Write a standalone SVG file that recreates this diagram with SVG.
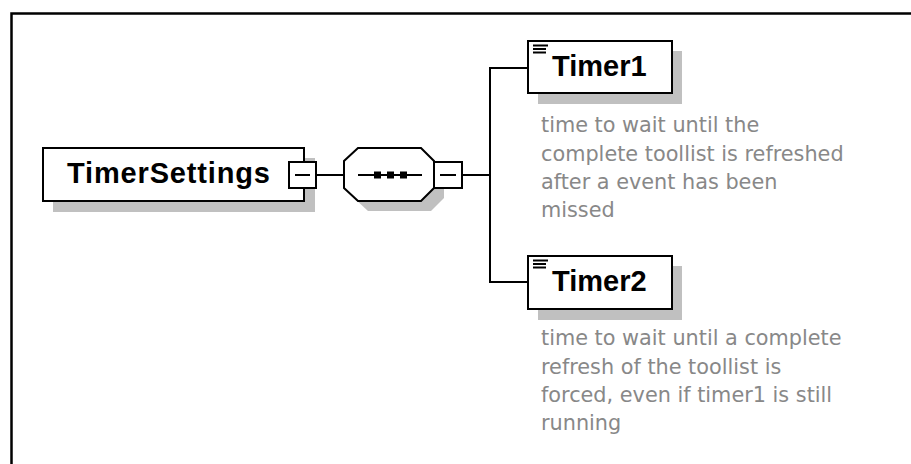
<svg xmlns="http://www.w3.org/2000/svg" width="911" height="464" viewBox="0 0 911 464">
<style>
.box{fill:#fff;stroke:#000;stroke-width:2}
.shadow{fill:#c0c0c0;stroke:none}
.line{stroke:#000;stroke-width:2;fill:none}
.name{font-family:"Liberation Sans",Arial,sans-serif;font-weight:bold;font-size:29px;fill:#000}
.doc{font-family:"DejaVu Sans",sans-serif;font-size:20.8px;fill:#888}
.ico{stroke:#000;stroke-width:2}
</style>
<rect width="911" height="464" fill="#fff"/>
<path d="M11.5,464 V13.5 H911" fill="none" stroke="#000" stroke-width="2.5"/>
<g id="connectors">
<line class="line" x1="316" y1="175" x2="344" y2="175"/>
<polyline class="line" points="462,175 490,175"/>
<polyline class="line" points="528,68 490,68 490,282 528,282"/>
</g>
<g id="TimerSettings">
<rect class="shadow" x="53" y="158" width="262" height="54"/>
<rect class="box" x="43" y="148" width="261" height="53"/>
<text class="name" x="67" y="183" textLength="203" lengthAdjust="spacing">TimerSettings</text>
<rect class="box" x="289" y="162" width="27" height="26"/>
<line class="line" x1="295" y1="175" x2="310" y2="175"/>
</g>
<g id="sequence">
<polygon class="shadow" points="368,158 431,158 444,171 444,198 431,211 368,211 354,198 354,171"/>
<polygon class="box" points="358,148 421,148 434,161 434,188 421,201 358,201 344,188 344,161"/>
<line class="line" x1="358" y1="175" x2="422" y2="175"/>
<rect x="374" y="171.5" width="7" height="7" fill="#000"/>
<rect x="387" y="171.5" width="7" height="7" fill="#000"/>
<rect x="400" y="171.5" width="7" height="7" fill="#000"/>
<rect class="box" x="434" y="162" width="28" height="26"/>
<line class="line" x1="440" y1="175" x2="456" y2="175"/>
</g>
<g id="Timer1">
<rect class="shadow" x="538" y="51" width="144" height="53"/>
<rect class="box" x="528" y="41" width="144" height="52"/>
<line class="ico" x1="533" y1="45.5" x2="548" y2="45.5"/>
<line class="ico" x1="533" y1="49" x2="546" y2="49"/>
<line class="ico" x1="533" y1="52.5" x2="546" y2="52.5"/>
<text class="name" x="552" y="76">Timer1</text>
<text class="doc" x="541" y="132">time to wait until the</text>
<text class="doc" x="541" y="160.5">complete toollist is refreshed</text>
<text class="doc" x="541" y="189">after a event has been</text>
<text class="doc" x="541" y="217">missed</text>
</g>
<g id="Timer2">
<rect class="shadow" x="538" y="266" width="144" height="54"/>
<rect class="box" x="528" y="256" width="144" height="53"/>
<line class="ico" x1="533" y1="260.5" x2="548" y2="260.5"/>
<line class="ico" x1="533" y1="264" x2="546" y2="264"/>
<line class="ico" x1="533" y1="267.5" x2="546" y2="267.5"/>
<text class="name" x="552" y="291">Timer2</text>
<text class="doc" x="541" y="345">time to wait until a complete</text>
<text class="doc" x="541" y="373.5">refresh of the toollist is</text>
<text class="doc" x="541" y="402">forced, even if timer1 is still</text>
<text class="doc" x="541" y="430">running</text>
</g>
</svg>
